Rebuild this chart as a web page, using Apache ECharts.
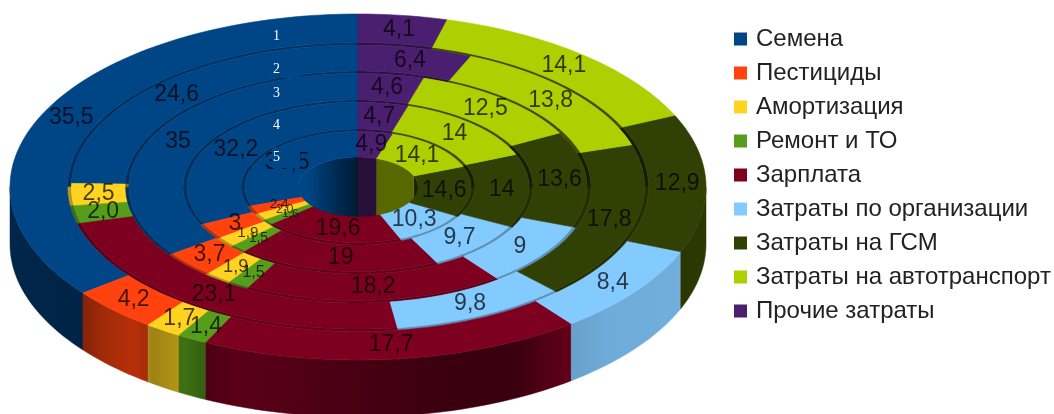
<!DOCTYPE html>
<html>
<head>
<meta charset="utf-8">
<style>html,body{margin:0;padding:0;background:#fff}#chart{width:1054px;height:414px}</style>
<script src="https://cdn.jsdelivr.net/npm/echarts@6/dist/echarts.min.js"></script>
</head>
<body>
<div id="chart"></div>
<script>
// Structure of production costs, % by ring (outer ring first)
const ringNames = ['1', '2', '3', '4', '5'];
const categories = ['Семена', 'Пестициды', 'Амортизация', 'Ремонт и ТО', 'Зарплата',
  'Затраты по организации', 'Затраты на ГСМ', 'Затраты на автотранспорт', 'Прочие затраты'];
const seeds = [35.5, 24.6, 35, 32.2, 30.5];
const pesticides = [4.2, 0, 3.7, 3, 2.4];
const depreciation = [1.7, 2.5, 1.9, 1.9, 2];
const repairs = [1.4, 2, 1.5, 1.5, 1.6];
const wages = [17.7, 23.1, 18.2, 19, 19.6];
const organisation = [8.4, 9.8, 9, 9.7, 10.3];
const fuel = [12.9, 17.8, 13.6, 14, 14.6];
const transport = [14.1, 13.8, 12.5, 14, 14.1];
const other = [4.1, 6.4, 4.6, 4.7, 4.9];
const allValues = [seeds, pesticides, depreciation, repairs, wages, organisation, fuel, transport, other];
const palette = ['#004586', '#ff420e', '#ffd320', '#579d1c', '#7e0021', '#83caff', '#314004', '#aecf00', '#4b1f6f'];
const grooveShade = [.7, .5, .5, .5, .5, .6, .45, .38, .55];

// Projection of the flat rings on screen
const CX = 358, CY = 187;
const RX = [348, 290.6, 233, 175, 117, 60];
const RY = [173, 144.5, 116, 87, 58, 30];
const GAP_X = 4, GAP_Y = 2.4;
const WALL = 57, HOLE_WALL = 62;
const DEG = Math.PI / 180;

const point = (t, rx, ry, dz) => [CX - rx * Math.sin(t * DEG), CY - ry * Math.cos(t * DEG) + (dz || 0)];

function shadeColor(hex, f) {
  const n = parseInt(hex.slice(1), 16);
  const c = [(n >> 16) & 255, (n >> 8) & 255, n & 255].map(v => Math.round(v * f));
  return 'rgb(' + c.join(',') + ')';
}

// Brightness of the outer wall along the rim, by angle counted anticlockwise from the top
const rimShade = [[90, .56], [128, .52], [132, .62], [140, .72], [144, .62], [150, .72], [154, .6], [160, .72], [195, .46], [208, .46], [216, .78], [226, .85], [270, .88]];
function lightAt(t) {
  for (let i = 1; i < rimShade.length; i++) {
    if (t <= rimShade[i][0]) {
      const a = rimShade[i - 1], b = rimShade[i];
      return a[1] + (b[1] - a[1]) * (t - a[0]) / (b[0] - a[0]);
    }
  }
  return rimShade[rimShade.length - 1][1];
}
function holeLight(t) {
  return t > 180 ? .5 : Math.min(1, .38 + .62 * t / 55);
}

function arc(a, b, rx, ry, dz) {
  const pts = [];
  const n = Math.max(1, Math.ceil(Math.abs(b - a) / 1.5));
  for (let i = 0; i <= n; i++) pts.push(point(a + (b - a) * i / n, rx, ry, dz));
  return pts;
}
function band(a, b, rxOut, ryOut, rxIn, ryIn, fill, z2) {
  return {
    type: 'polygon', silent: true, z2: z2,
    shape: { points: arc(a, b, rxOut, ryOut).concat(arc(b, a, rxIn, ryIn)) },
    style: { fill: fill, stroke: fill, lineWidth: 0.6 }
  };
}
function overlap(a, b, lo, hi) {
  const s = Math.max(a, lo), e = Math.min(b, hi);
  return e > s ? [s, e] : null;
}
// Wall of constant height under an arc, shaded along its length
function wall(a, b, rx, ry, h, hex, light, z2) {
  const stops = [], x0 = point(a, rx, ry)[0], x1 = point(b, rx, ry)[0];
  const n = 12;
  for (let i = 0; i <= n; i++) {
    const t = a + (b - a) * i / n;
    const off = (point(t, rx, ry)[0] - x0) / ((x1 - x0) || 1);
    stops.push({ offset: Math.min(1, Math.max(0, off)), color: shadeColor(hex, light(t)) });
  }
  const fill = { type: 'linear', x: x0, y: 0, x2: x1, y2: 0, global: true, colorStops: stops };
  return {
    type: 'polygon', silent: true, z2: z2,
    shape: { points: arc(a, b, rx, ry).concat(arc(b, a, rx, ry, h)) },
    style: { fill: fill, stroke: fill, lineWidth: 0.5 }
  };
}

function labelText(v) {
  return (v === 2 ? v.toFixed(1) : String(v)).replace('.', ',');
}
function labelSize(v, midRx) {
  const room = v * midRx;
  return room >= 400 ? 23 : (7 + room * 0.023) * 1.15;
}

function renderSlice(params, api) {
  const s = params.seriesIndex, ring = api.value(0), v = api.value(1);
  if (!v) return null;
  const total = allValues.reduce((sum, list) => sum + list[ring], 0);
  const before = allValues.slice(0, s).reduce((sum, list) => sum + list[ring], 0);
  const a = before / total * 360, b = (before + v) / total * 360;
  const hex = palette[s];
  const outX = RX[ring] - (ring ? GAP_X : 0), outY = RY[ring] - (ring ? GAP_Y : 0);
  const inX = RX[ring + 1], inY = RY[ring + 1];
  const parts = [band(a, b, outX, outY, inX, inY, hex, 10)];

  // visible side faces: front of the rim, and the groove faces between rings
  const front = overlap(a, b, 90, 270);
  if (front) {
    if (ring === 0) parts.push(wall(front[0], front[1], RX[0], RY[0], WALL, hex, lightAt, 8));
    else parts.push(band(front[0], front[1], RX[ring], RY[ring], outX, outY, shadeColor(hex, .72), 9));
  }
  [[0, 90], [270, 360]].forEach(function (range) {
    const back = overlap(a, b, range[0], range[1]);
    if (!back) return;
    if (ring < ringNames.length - 1) {
      parts.push(band(back[0], back[1], inX, inY, inX - GAP_X, inY - GAP_Y, shadeColor(hex, grooveShade[s]), 9));
    } else {
      parts.push(wall(back[0], back[1], inX, inY, HOLE_WALL, hex, holeLight, 2));
    }
  });

  // value label at the middle of the slice surface
  const midRx = (outX + inX) / 2, midRy = (outY + inY) / 2;
  const c = point((a + b) / 2, midRx, midRy);
  parts.push({
    type: 'text', silent: true, z2: 100, x: c[0], y: c[1],
    style: {
      text: labelText(v), fill: 'rgba(0,0,0,0.72)', align: 'center', verticalAlign: 'middle',
      fontFamily: '"Liberation Sans", sans-serif', fontSize: labelSize(v, midRx)
    }
  });
  return { type: 'group', children: parts };
}

// Ring numbers on their own small plates
const plateTops = [28, 60, 83, 115, 147];
const plateHeights = [17, 18, 21, 21, 21];
const ringMarks = [];
ringNames.forEach(function (name, i) {
  ringMarks.push({
    type: 'rect', z: 50, silent: true,
    shape: { x: 272, y: plateTops[i], width: 28, height: plateHeights[i] },
    style: { fill: '#004586' }
  });
  ringMarks.push({
    type: 'text', z: 51, silent: true, x: 273, y: plateTops[i] + plateHeights[i] / 2,
    style: { text: name, fill: '#fff', fontFamily: '"Liberation Serif", serif', fontSize: 14, verticalAlign: 'middle' }
  });
});

const chart = echarts.init(document.getElementById('chart'), null, { renderer: 'canvas' });
chart.setOption({
  animation: false,
  backgroundColor: '#fff',
  color: palette,
  legend: {
    orient: 'vertical', left: 734, top: 27, padding: 0,
    itemWidth: 13, itemHeight: 13, itemGap: 10, icon: 'rect', selectedMode: false,
    textStyle: { color: '#222', fontSize: 24, fontFamily: '"Liberation Sans", sans-serif', padding: [0, 0, 0, 4] },
    data: categories
  },
  graphic: { elements: ringMarks },
  series: categories.map((name, s) => ({
    type: 'custom', name: name, coordinateSystem: 'none', silent: true,
    renderItem: renderSlice, clip: false,
    data: allValues[s].map((v, i) => [i, v])
  }))
});
</script>
</body>
</html>
